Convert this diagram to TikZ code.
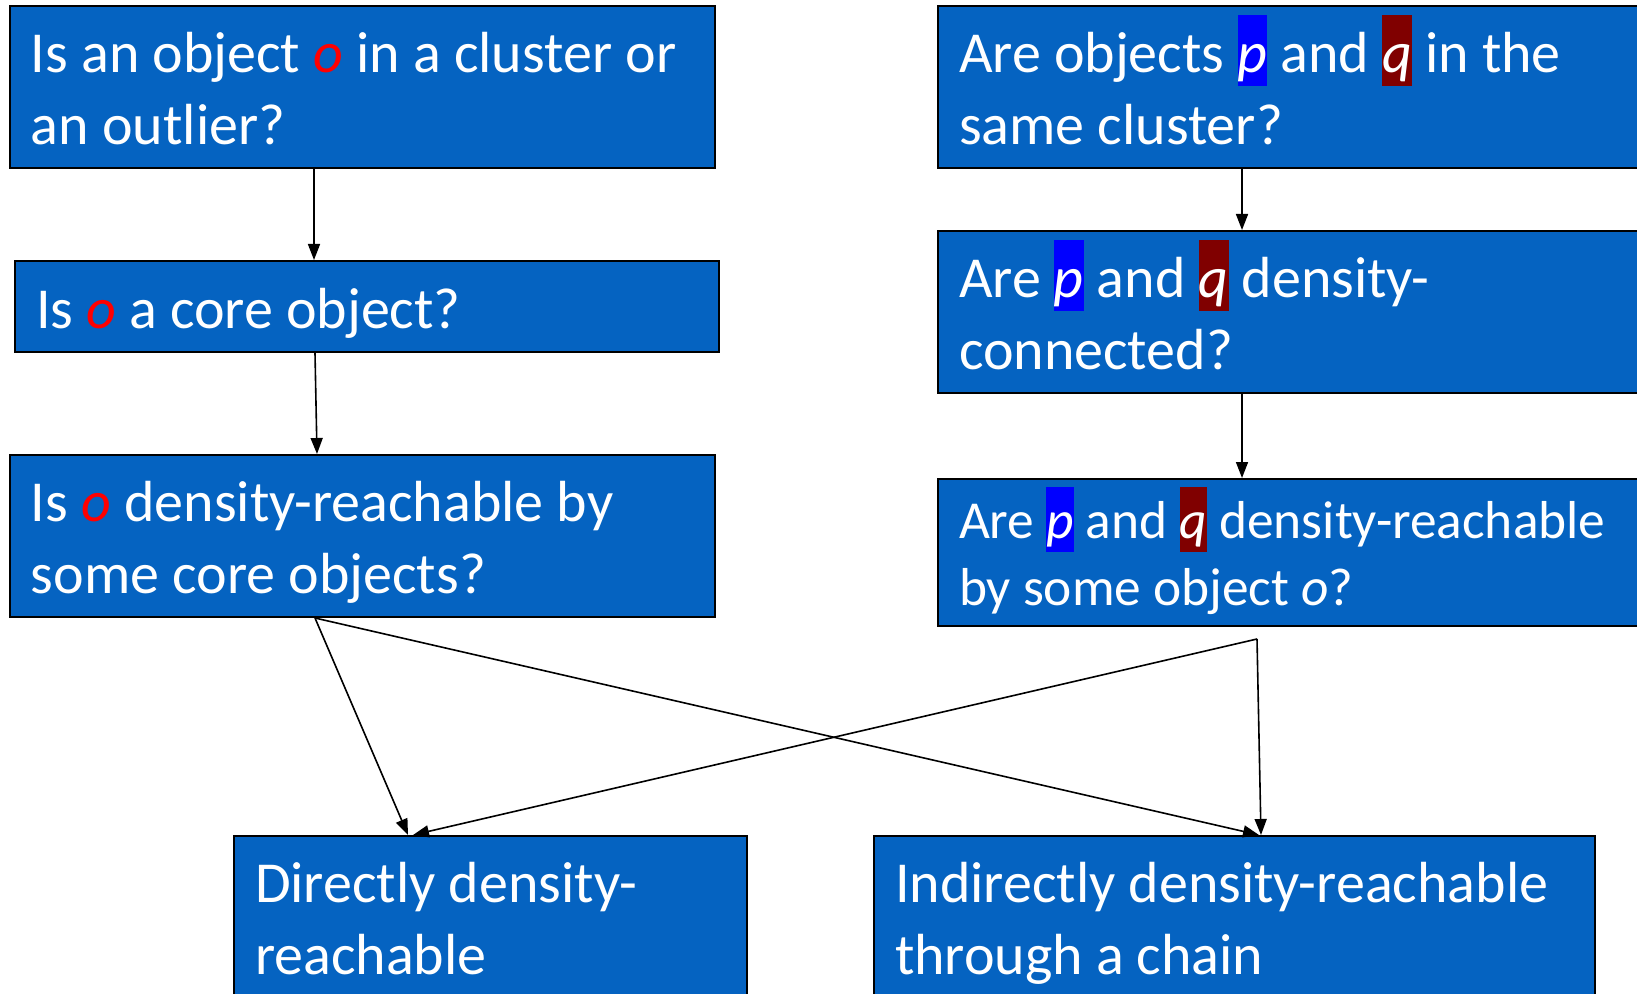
\documentclass[tikz,border=0pt]{standalone}
\usepackage{fontspec}
\setmainfont{Carlito}
\usetikzlibrary{arrows.meta}
\definecolor{boxblue}{HTML}{0563C1}
\definecolor{hlblue}{HTML}{0000FF}
\definecolor{hlred}{HTML}{800000}
\definecolor{ored}{HTML}{FF0000}
\newcommand\sst{\rule[-0.2345em]{0pt}{1.217em}}
\newcommand\hlp[2]{{\setlength{\fboxsep}{0pt}\colorbox{#1}{\sst\textit{#2}}}}
\newcommand\ro{\textcolor{ored}{\textit{o}}}
\begin{document}
\begin{tikzpicture}[x=1pt,y=1pt,
  qbox/.style={draw=black, line width=1pt, fill=boxblue, text=white,
    font=\fontsize{29}{35}\selectfont, align=left, inner xsep=10.5pt,
    inner ysep=0pt, anchor=north west,
    execute at begin node={\spaceskip=0.226em plus 0.07em minus 0.03em\relax\xspaceskip=\spaceskip}},
  arr/.style={-{Triangle[length=8pt,width=6pt]}, line width=0.8pt}]
\useasboundingbox (0,0) rectangle (818.5,-497);
\node[qbox, text width=331.5pt, minimum height=81pt] (b1) at (4.5,-2.5)
  {\sst Is an object \ro{} in a cluster or\\\sst an outlier?};
\node[qbox, text width=331pt, minimum height=45.5pt] (b2) at (7,-130)
  {\sst Is \ro{} a core object?};
\node[qbox, text width=331.5pt, minimum height=81pt] (b3) at (4.5,-227)
  {\sst Is \ro{} density-reachable by\\\sst some core objects?};
\node[qbox, text width=359pt, minimum height=81pt] (b4) at (468.5,-2.5)
  {\sst Are objects \hlp{hlblue}{p} and \hlp{hlred}{q} in the\\\sst same cluster?};
\node[qbox, text width=359pt, minimum height=81pt] (b5) at (468.5,-115)
  {\sst Are \hlp{hlblue}{p} and \hlp{hlred}{q} density-\\\sst connected?};
\node[qbox, text width=359pt, minimum height=73.5pt,
  font=\fontsize{26.7}{31.5}\selectfont] (b6) at (468.5,-239)
  {\sst Are \hlp{hlblue}{p} and \hlp{hlred}{q} density-reachable\\\sst by some object \textit{o}?};
\node[qbox, text width=235.5pt, minimum height=81pt] (b7) at (116.5,-417.5)
  {\sst Directly density-\\\sst reachable};
\node[qbox, text width=339.5pt, minimum height=81pt] (b8) at (436.5,-417.5)
  {\sst Indirectly density-reachable\\\sst through a chain};
\coordinate (r) at (628.5,-319.5);
\draw[arr] ([xshift=-24.25pt]b1.south) -- ([xshift=-26.5pt]b2.north);
\draw[arr] ([xshift=-26pt]b2.south) -- ([xshift=-22.75pt]b3.north);
\draw[arr] ([xshift=-38pt]b4.south) -- ([xshift=-38pt]b5.north);
\draw[arr] ([xshift=-38pt]b5.south) -- ([xshift=-38pt]b6.north);
\draw[arr] ([xshift=-23.75pt]b3.south) -- ([xshift=-41.25pt]b7.north);
\draw[arr] ([xshift=-23.75pt]b3.south) -- ([xshift=12.25pt]b8.north);
\draw[arr] (r) -- ([xshift=-38.75pt]b7.north);
\draw[arr] (r) -- ([xshift=13.25pt]b8.north);
\end{tikzpicture}
\end{document}
